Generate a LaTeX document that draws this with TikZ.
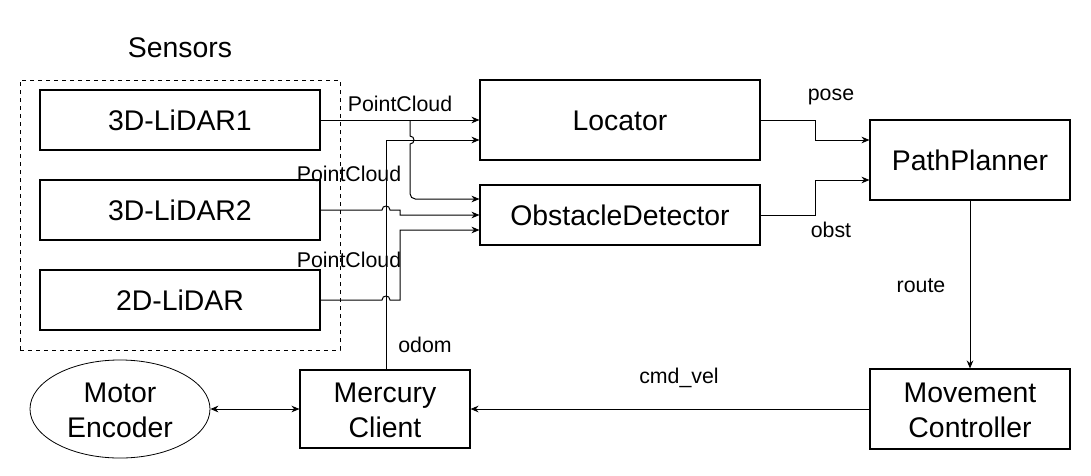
\documentclass[tikz,border=0pt]{standalone}
\usepackage{fontspec}
\setmainfont{Liberation Sans}
\usetikzlibrary{arrows.meta,shapes.geometric}
\newcommand{\lowtxt}[1]{\raisebox{-3pt}[\height][\depth]{\begin{tabular}{@{}c@{}}#1\end{tabular}}}
\begin{document}
\begin{tikzpicture}[x=0.75pt,y=-0.75pt,
  box/.style={draw, line width=0.8pt, inner sep=0pt, align=center,
    font=\fontsize{21.3}{26}\selectfont},
  lbl/.style={inner sep=0pt, anchor=base, font=\fontsize{16}{19}\selectfont},
  conn/.style={line width=0.75pt, -{Stealth[length=6pt,width=5pt]}},
  plain/.style={line width=0.75pt}]
\useasboundingbox (0,0) rectangle (1091,475);

\node[draw, dashed, line width=0.6pt, minimum width=240pt, minimum height=202.5pt, inner sep=0pt] (sens) at (180,215) {};
\node[lbl, font=\fontsize{21.3}{26}\selectfont] (senslbl) at (180,57) {Sensors};

\node[box, minimum width=210pt, minimum height=45pt] (l1) at (180,120) {\lowtxt{3D-LiDAR1}};
\node[box, minimum width=210pt, minimum height=45pt] (l2) at (180,210) {\lowtxt{3D-LiDAR2}};
\node[box, minimum width=210pt, minimum height=45pt] (l3) at (180,300) {\lowtxt{2D-LiDAR}};

\node[box, minimum width=210pt, minimum height=60pt] (loc) at (620,120) {\lowtxt{Locator}};
\node[box, minimum width=210pt, minimum height=45pt] (od) at (620,215) {\lowtxt{ObstacleDetector}};
\node[box, minimum width=150pt, minimum height=60pt] (pp) at (970,160) {\lowtxt{PathPlanner}};
\node[box, minimum width=150pt, minimum height=60pt] (mov) at (970,409) {\lowtxt{Movement\\Controller}};
\node[box, minimum width=127.5pt, minimum height=58.5pt] (mc) at (385,409) {\lowtxt{Mercury\\Client}};
\node[box, ellipse, line width=0.6pt, minimum width=135pt, minimum height=67.5pt] (me) at (120,409) {\lowtxt{Motor\\Encoder}};

% labels
\node[lbl] (pc1) at (400,111) {PointCloud};
\node[lbl] (pc2) at (349,181) {PointCloud};
\node[lbl] (pc3) at (349,267) {PointCloud};
\node[lbl] (odom) at (425,352) {odom};
\node[lbl] (pose) at (831,100) {pose};
\node[lbl] (obst) at (831,237) {obst};
\node[lbl] (route) at (921,292) {route};
\node[lbl] (cmd) at (679,383) {cmd\_vel};

% helper coordinates
\coordinate (b1) at (410,120);
\coordinate (o1) at (386,140);

% 3D-LiDAR1 -> Locator
\draw[conn] (l1.east) -- (loc.west |- l1.east);
% 3D-LiDAR1 -> ObstacleDetector (with hop over odom line)
\draw[conn] (b1) -- (410,136)
  .. controls (415.3,136) and (415.3,144) .. (410,144)
  [rounded corners=4pt] -- (410,199) -- (od.west |- 0,199);
% 3D-LiDAR2 -> ObstacleDetector
\draw[conn] (l2.east) -- (382,210)
  .. controls (382,204.7) and (390,204.7) .. (390,210)
  -- (400,210) -- (400,215) -- (od.west |- 0,215);
% 2D-LiDAR -> ObstacleDetector
\draw[conn] (l3.east) -- (382,300)
  .. controls (382,294.7) and (390,294.7) .. (390,300)
  -- (400,300) -- (400,230) -- (od.west |- 0,230);
% odom: Mercury Client -> Locator
\draw[conn] (mc.north -| o1) -- (o1) -- (loc.west |- o1);
% Locator -> PathPlanner
\draw[conn] (loc.east) -- (815,120) -- (815,140) -- (pp.west |- 0,140);
% ObstacleDetector -> PathPlanner
\draw[conn] (od.east) -- (815,215) -- (815,180) -- (pp.west |- 0,180);
% PathPlanner -> Movement Controller
\draw[conn] (pp.south) -- (mov.north);
% Movement Controller -> Mercury Client
\draw[conn] (mov.west) -- (mc.east);
% Motor Encoder <-> Mercury Client
\draw[conn, {Stealth[length=6pt,width=5pt]}-{Stealth[length=6pt,width=5pt]}] (me.east) -- (mc.west);
\end{tikzpicture}
\end{document}
